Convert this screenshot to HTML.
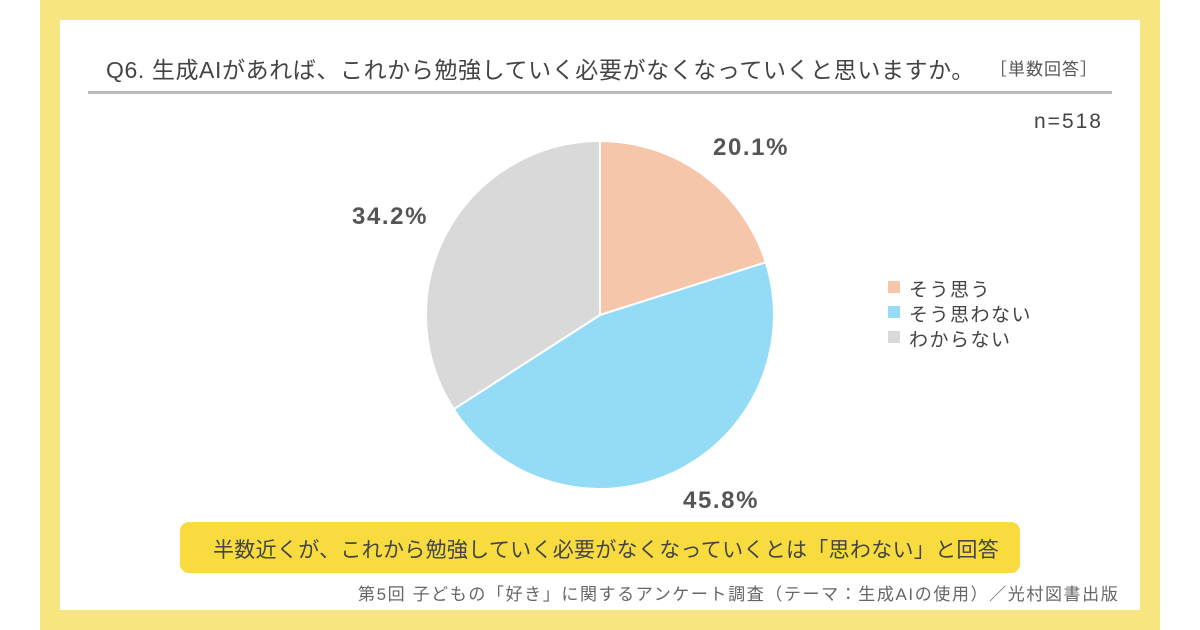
<!DOCTYPE html>
<html><head><meta charset="utf-8"><style>
body{margin:0;width:1200px;height:630px;background:#fff;position:relative;overflow:hidden;font-family:"Liberation Sans","Noto Sans CJK JP",sans-serif;color:#444}
.frame{position:absolute;left:40px;top:0;width:1120px;height:630px;background:#f7e680}
.inner{position:absolute;left:60px;top:20px;width:1080px;height:590px;background:#fff}
.t{position:absolute;white-space:nowrap}
</style></head><body>
<div class="frame"></div><div class="inner"></div>
<div class="t" style="left:106px;top:51px;font-size:23px;letter-spacing:0.6px;color:#444">Q6. 生成AIがあれば、これから勉強していく必要がなくなっていくと思いますか。</div>
<div class="t" style="left:990px;top:55px;font-size:17px;letter-spacing:1px;color:#555">［単数回答］</div>
<div style="position:absolute;left:88px;top:91px;width:1024px;height:3px;background:#bbb"></div>
<div class="t" style="left:1034px;top:110px;font-size:21px;letter-spacing:2px;color:#444">n=518</div>
<svg style="position:absolute;left:0;top:0" width="1200" height="630">
<path d="M600,315 L600,141 A174,174 0 0 1 765.8,262.3 Z" fill="#f6c6ab" stroke="#fff" stroke-width="2"/>
<path d="M600,315 L765.8,262.3 A174,174 0 0 1 453.7,409.2 Z" fill="#94dcf6" stroke="#fff" stroke-width="2"/>
<path d="M600,315 L453.7,409.2 A174,174 0 0 1 600,141 Z" fill="#d9d9d9" stroke="#fff" stroke-width="2"/>
<rect x="888" y="281" width="12" height="12" fill="#f6c6ab"/>
<rect x="888" y="306" width="12" height="12" fill="#94dcf6"/>
<rect x="888" y="331" width="12" height="12" fill="#d9d9d9"/>
</svg>
<div class="t" style="left:713px;top:134px;font-size:24px;letter-spacing:1.6px;font-weight:bold;color:#555">20.1%</div>
<div class="t" style="left:352px;top:203px;font-size:24px;letter-spacing:1.6px;font-weight:bold;color:#555">34.2%</div>
<div class="t" style="left:683px;top:487px;font-size:24px;letter-spacing:1.6px;font-weight:bold;color:#555">45.8%</div>
<div class="t" style="left:909px;top:275px;font-size:19px;letter-spacing:1.5px">そう思う</div>
<div class="t" style="left:909px;top:300px;font-size:19px;letter-spacing:1.5px">そう思わない</div>
<div class="t" style="left:909px;top:325px;font-size:19px;letter-spacing:1.5px">わからない</div>
<div style="position:absolute;left:180px;top:522px;width:840px;height:51px;background:#f8dc3f;border-radius:9px"></div>
<div class="t" style="left:213px;top:534px;font-size:21px;letter-spacing:0.3px;color:#444">半数近くが、これから勉強していく必要がなくなっていくとは「思わない」と回答</div>
<div class="t" style="left:358px;top:580px;font-size:17px;letter-spacing:1.6px;color:#666">第5回 子どもの「好き」に関するアンケート調査（テーマ：生成AIの使用）／光村図書出版</div>
</body></html>
